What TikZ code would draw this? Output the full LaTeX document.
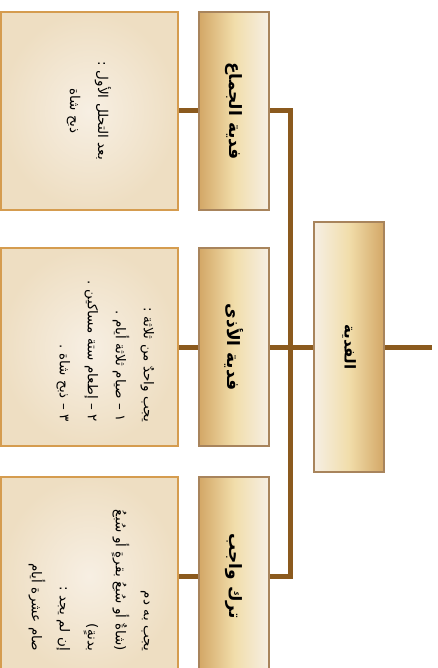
\documentclass[tikz,border=0pt]{standalone}
\usepackage{fontspec}
\newfontfamily\arabicfont[Script=Arabic]{DejaVu Sans}
\TeXXeTstate=1
\newcommand{\artext}[1]{\beginR #1\endR}
\definecolor{branch}{HTML}{8B5A1E}
\definecolor{catline}{HTML}{A8845C}
\definecolor{catdark}{HTML}{D3A766}
\definecolor{catmid}{HTML}{F1DDAA}
\definecolor{catpale}{HTML}{F6EFE4}
\definecolor{boxline}{HTML}{D59C4F}
\definecolor{boxin}{HTML}{F7EFE3}
\definecolor{boxout}{HTML}{EEDEC2}

\begin{document}
\begin{tikzpicture}[x=1pt, y=-1pt,
		catbox/.style={draw=catline, line width=2pt, rotate=-90, inner sep=0pt,
			minimum width=198, minimum height=70,
			left color=catdark, right color=catpale, middle color=catmid,
			font=\arabicfont\bfseries\fontsize{17}{20}\selectfont},
		rootbox/.style={catbox, minimum width=250,
			left color=catpale, right color=catdark, middle color=catmid,
			font=\arabicfont\bfseries\fontsize{15}{18}\selectfont},
		detbox/.style={draw=boxline, line width=2pt, rotate=-90, inner sep=0pt,
			minimum width=198, minimum height=177, text width=150,
			inner color=boxin, outer color=boxout,
			font=\arabicfont\fontsize{13.5}{28}\selectfont},
		link/.style={draw=branch, line width=5pt}]
			\useasboundingbox (0,0) rectangle (438,668);

			% root and the three kinds
			\node [rootbox] (root) at (349,347) {\artext{الفدية}};
			\node [catbox] (cat1) at (234,111) {\artext{فدية الجماع}};
			\node [catbox] (cat2) at (234,347) {\artext{فدية الأذى}};
			\node [catbox] (cat3) at (234,576) {\artext{ترك واجب}};

			% what each one asks for
			\node [detbox, align=center] (det1) at (89,111) {\artext{بعد التحلل الأول :}\\
				\artext{ذبح شاة}};
			\node [detbox, align=right, text depth=120] (det2) at (89,347) {\artext{يجب واحدٌ من ثلاثة :}\\
				\artext{١ – صيام ثلاثة أيام .}\\
				\artext{٢ – إطعام ستة مساكين .}\\
				\artext{٣ – ذبح شاة .}};
			\node [detbox, align=right] (det3) at (89,576) {\artext{يجب به دم}\\
				\artext{(شاةٌ أو سُبعُ بقرةٍ أو سُبعُ}\\
				\artext{بدنةٍ)}\\
				\artext{إن لم يجد :}\\
				\artext{صام عشرة أيام}};

			\coordinate (bus) at (290,347);
			\coordinate (out) at (432,347);
			\draw [link] (root.north) -- (out);
			\draw [link] (cat2.north) -- (root.south);
			\draw [link] (cat1.north) -| (bus) |- (cat3.north);
			\draw [link] (cat1.south) -- (det1.north);
			\draw [link] (cat2.south) -- (det2.north);
			\draw [link] (cat3.south) -- (det3.north);
\end{tikzpicture}
\end{document}
